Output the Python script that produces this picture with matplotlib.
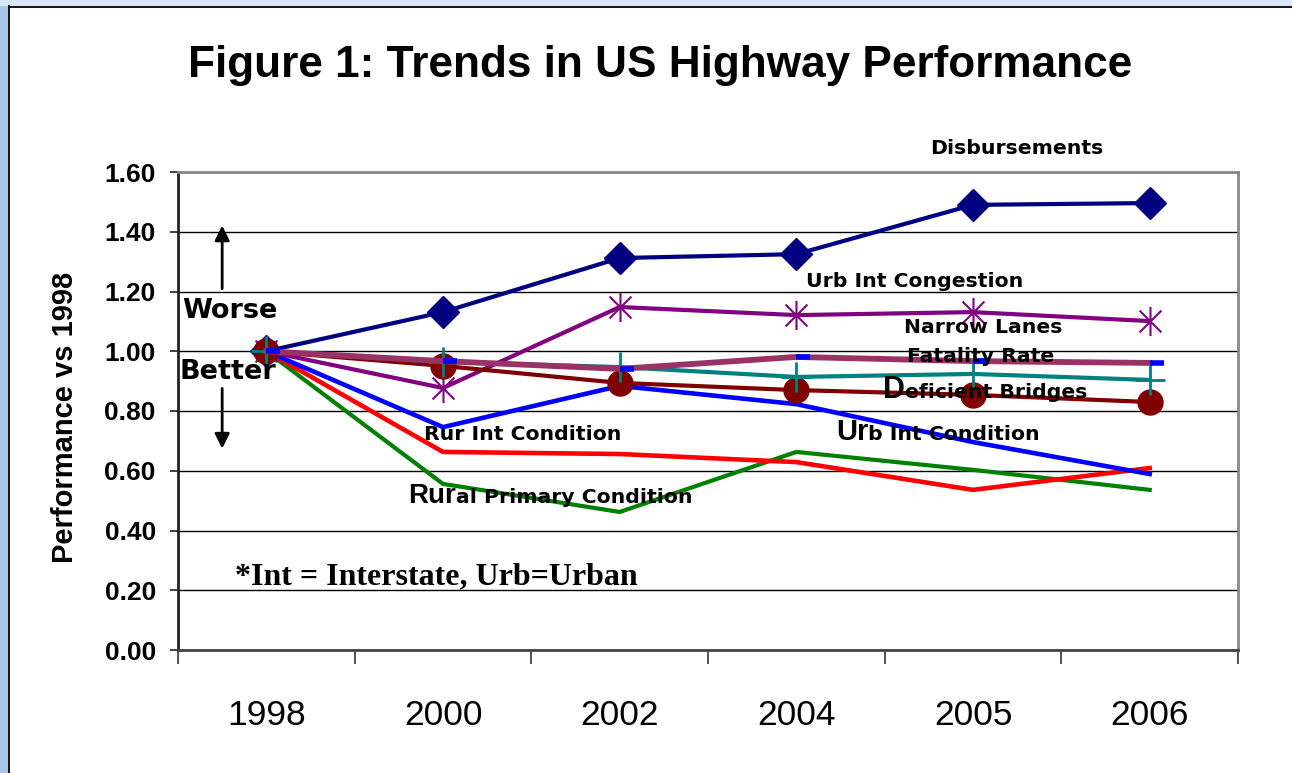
import matplotlib
matplotlib.use("Agg")
import matplotlib.pyplot as plt
from matplotlib.patches import Rectangle
from matplotlib.lines import Line2D
from matplotlib.path import Path
import numpy as np

# ---------------- data ----------------
years = ['1998', '2000', '2002', '2004', '2005', '2006']
disbursements = [1.00, 1.131, 1.312, 1.325, 1.490, 1.496]
urb_int_congestion = [1.00, 0.877, 1.148, 1.121, 1.131, 1.101]
narrow_lanes = [1.00, 0.967, 0.941, 0.981, 0.967, 0.961]
fatality_rate = [1.00, 0.964, 0.947, 0.914, 0.924, 0.904]
deficient_bridges = [1.00, 0.951, 0.894, 0.870, 0.854, 0.830]
urb_int_condition = [1.00, 0.746, 0.884, 0.823, 0.696, 0.589]
rur_int_condition = [1.00, 0.663, 0.656, 0.629, 0.536, 0.609]
rural_primary_condition = [1.00, 0.556, 0.462, 0.663, 0.603, 0.536]
y_ticks = [0.0, 0.2, 0.4, 0.6, 0.8, 1.0, 1.2, 1.4, 1.6]

SANS = 'Liberation Sans'
WIDE = 'DejaVu Sans'
SERIF = 'Liberation Serif'

W, H = 1292, 773
fig = plt.figure(figsize=(W / 100, H / 100), dpi=100)
fig.patch.set_facecolor('white')

# slide background strips
fig.add_artist(Rectangle((0, 0), 8 / W, 1, transform=fig.transFigure,
                         facecolor='#a9c4e4', edgecolor='none', zorder=0))
fig.add_artist(Rectangle((0, 1 - 6 / H), 1, 6 / H, transform=fig.transFigure,
                         facecolor='#d8e6f8', edgecolor='none', zorder=0))
fig.add_artist(Line2D([8.5 / W, 8.5 / W], [0, 1 - 6 / H], transform=fig.transFigure,
                      color='black', lw=1.3))
fig.add_artist(Line2D([8.5 / W, 1], [1 - 6.5 / H, 1 - 6.5 / H], transform=fig.transFigure,
                      color='black', lw=1.3))

L, R, B, T = 178, 1238, 650, 172
ax = fig.add_axes([L / W, 1 - B / H, (R - L) / W, (B - T) / H])
x = np.arange(len(years))

# grid
ax.set_ylim(0, 1.6)
ax.set_xlim(-0.5, len(years) - 0.5)
ax.set_yticks(y_ticks)
ax.set_yticklabels([f'{v:.2f}' for v in y_ticks], fontsize=19, fontweight='bold', family=SANS)
ax.yaxis.grid(True, color='black', lw=1.0)
ax.set_axisbelow(True)
ax.tick_params(axis='y', direction='out', length=6, width=1.3, pad=10, color='#333333')

ax.set_xticks(x)
ax.set_xticklabels(years, fontsize=25.5, family=SANS)
ax.tick_params(axis='x', which='major', length=0, pad=35)
ax.set_xticks(np.arange(-0.5, len(years), 1.0), minor=True)
ax.tick_params(axis='x', which='minor', direction='out', length=10, width=1.3, color='#444444')

for side, col in [('left', '#222222'), ('bottom', '#444444'), ('top', '#888888'), ('right', '#888888')]:
    ax.spines[side].set_color(col)
    ax.spines[side].set_linewidth(2)

# custom markers
ast = Path([(0, -1), (0, 1), (-0.75, -0.75), (0.75, 0.75), (-0.75, 0.75), (0.75, -0.75)],
           [Path.MOVETO, Path.LINETO, Path.MOVETO, Path.LINETO, Path.MOVETO, Path.LINETO])
dash = Path([(0, 0), (1, 0)], [Path.MOVETO, Path.LINETO])

# series
ax.plot(x, rural_primary_condition, color='#008000', lw=3, zorder=3)
ax.plot(x, rur_int_condition, color='#ff0000', lw=3.3, zorder=3)
ax.plot(x, urb_int_condition, color='#0000ff', lw=3.3, zorder=3)
ax.plot(x, disbursements, color='#000080', lw=3, marker='D', markersize=16.5, zorder=4)
ax.plot(x, urb_int_congestion, color='#800080', lw=3, marker=ast, markersize=21,
        markerfacecolor='none', markeredgecolor='#800080', markeredgewidth=1.5, zorder=4)
ax.plot(x, deficient_bridges, color='#800000', lw=3, marker='o', markersize=18, zorder=4)
ax.plot(x, fatality_rate, color='#008080', lw=3, marker='+', markersize=22,
        markeredgewidth=2, zorder=5)
ax.plot(x, narrow_lanes, color='#993366', lw=4.2, zorder=5)
ax.plot(x, narrow_lanes, color='#0000ff', lw=0, marker=dash, markersize=20,
        markeredgewidth=4, zorder=6)

# annotations
LS = 14.7
lab = dict(fontsize=LS, fontweight='bold', family=WIDE, clip_on=False, zorder=7)
ax.text(4.25, 1.68, 'Disbursements', ha='center', va='center', **lab)
ax.text(3.67, 1.232, 'Urb Int Congestion', ha='center', va='center', **lab)
ax.text(4.06, 1.081, 'Narrow Lanes', ha='center', va='center', **lab)
ax.text(4.045, 0.981, 'Fatality Rate', ha='center', va='center', **lab)
ax.text(1.45, 0.72, 'Rur Int Condition', ha='center', va='center', **lab)


def split_label(xd, yd, big, rest, bigsize):
    t = ax.text(xd, yd, big, ha='left', va='baseline', fontsize=bigsize, fontweight='bold',
                family=SANS, clip_on=False, zorder=7)
    ax.annotate(rest, xy=(1, yd), xycoords=(t, 'data'), ha='left', va='baseline',
                fontsize=LS, fontweight='bold', family=WIDE, annotation_clip=False, zorder=7)


split_label((883 - 266.3) / 176.7, (650 - 398) / 298.75, 'D', 'eficient Bridges', 22)
split_label((836 - 266.3) / 176.7, (650 - 440) / 298.75, 'Ur', 'b Int Condition', 21)
split_label((408 - 266.3) / 176.7, (650 - 503) / 298.75, 'Rur', 'al Primary Condition', 20)

ax.text(-0.205, 1.135, 'Worse', ha='center', va='center', fontsize=19.5, fontweight='bold',
        family=WIDE, zorder=7)
ax.text(-0.215, 0.93, 'Better', ha='center', va='center', fontsize=19.5, fontweight='bold',
        family=WIDE, zorder=7)
ax.annotate('', xy=(-0.25, 1.43), xytext=(-0.25, 1.20),
            arrowprops=dict(arrowstyle='-|>', lw=2, color='black', mutation_scale=22), zorder=7)
ax.annotate('', xy=(-0.25, 0.665), xytext=(-0.25, 0.885),
            arrowprops=dict(arrowstyle='-|>', lw=2, color='black', mutation_scale=22), zorder=7)

ax.text(0.96, 0.244, '*Int = Interstate, Urb=Urban', ha='center', va='center', fontsize=23,
        fontweight='bold', family=SERIF, zorder=7)

ax.set_ylabel('Performance vs 1998', fontsize=21, fontweight='bold', family=SANS, va='center')
ax.yaxis.set_label_coords((65 - L) / (R - L), (B - 417) / (B - T))

fig.text(660 / W, 1 - 66 / H, 'Figure 1: Trends in US Highway Performance', ha='center',
         va='center', fontsize=31.8, fontweight='bold', family=SANS)

fig.savefig('out.png', dpi=100, facecolor=fig.get_facecolor())
